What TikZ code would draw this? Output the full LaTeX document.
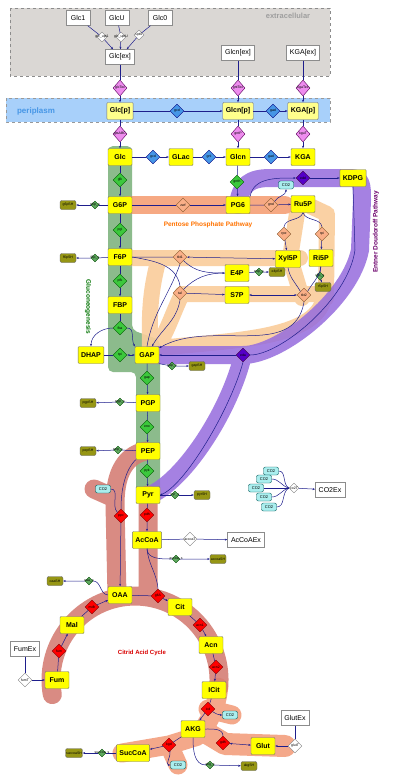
\documentclass[tikz,border=0pt]{standalone}
\usepackage{fontspec}
\setmainfont{Liberation Sans}
\usetikzlibrary{shapes.geometric, arrows.meta, positioning, calc, backgrounds}

\definecolor{metyel}{RGB}{255,255,0}
\definecolor{peryel}{RGB}{255,255,140}
\definecolor{edgeblue}{RGB}{30,30,140}
\definecolor{bgreen}{RGB}{128,180,128}
\definecolor{borange}{RGB}{246,165,125}
\definecolor{bpeach}{RGB}{250,205,155}
\definecolor{bpurple}{RGB}{150,108,222}
\definecolor{bred}{RGB}{212,124,114}
\definecolor{bsalmon}{RGB}{244,168,138}
\definecolor{rxgreen}{RGB}{60,200,60}
\definecolor{rxsalmon}{RGB}{250,175,135}
\definecolor{rxblue}{RGB}{70,150,230}
\definecolor{rxpink}{RGB}{238,140,238}
\definecolor{rxviolet}{RGB}{85,0,200}
\definecolor{sinkolive}{RGB}{150,150,20}
\definecolor{sinkgreen}{RGB}{95,170,95}
\definecolor{cofcyan}{RGB}{170,238,238}
\definecolor{extgray}{RGB}{218,215,212}
\definecolor{peribg}{RGB}{168,208,250}

\begin{document}
\begin{tikzpicture}[x=1pt, y=-1pt, >={Stealth[length=2.5pt,width=2pt]},
        met/.style={rectangle, draw=black!55, fill=metyel, rounded corners=1pt, minimum width=24pt, minimum height=17pt, inner xsep=3pt, inner ysep=1pt, font=\fontsize{7}{8}\selectfont\bfseries},
        metp/.style={met, fill=peryel},
        ext/.style={rectangle, draw=black!45, fill=white, minimum width=24pt, minimum height=15pt, inner xsep=3.5pt, inner ysep=1pt, font=\fontsize{7}{8}\selectfont},
        rxlab/.style={font=\fontsize{3.5}{4}\selectfont, inner sep=0pt},
        rxbase/.style={diamond, draw=black!60, line width=0.4pt, inner sep=0pt, minimum width=14pt, minimum height=14pt, label={[rxlab]center:#1}},
        grx/.style={rxbase=#1, fill=rxgreen, draw=green!35!black},
        rrx/.style={rxbase=#1, fill=red, draw=red!50!black},
        srx/.style={rxbase=#1, fill=rxsalmon, draw=brown!70!black},
        brx/.style={rxbase=#1, fill=rxblue, draw=blue!50!black},
        prx/.style={rxbase=#1, fill=rxpink, draw=violet!70!black, minimum height=16pt},
        vrx/.style={rxbase=#1, fill=rxviolet, draw=violet!50!black},
        wrx/.style={rxbase=#1, fill=white, draw=black!50, minimum width=10pt, minimum height=10pt},
        snkrx/.style={rxbase=#1, fill=sinkgreen, draw=green!30!black, minimum width=8pt, minimum height=8pt},
        snk/.style={rectangle, rounded corners=2pt, draw=black!60, fill=sinkolive, minimum width=16pt, minimum height=9pt, inner sep=0.5pt, font=\fontsize{3.5}{4}\selectfont},
        cof/.style={rectangle, rounded corners=2pt, draw=teal!70!black, fill=cofcyan, minimum width=15pt, minimum height=8pt, inner sep=0.5pt, font=\fontsize{4}{4.5}\selectfont},
        flux/.style={draw=edgeblue, line width=0.5pt},
        band/.style={line width=16pt, line cap=round, line join=round},
        pathlbl/.style={font=\fontsize{6.5}{7}\selectfont\bfseries}
    ]
    \fill[white] (0,0) rectangle (400,782);
    \useasboundingbox (0,0) rectangle (400,782);

    % compartments
    \draw[black!45, dashed, fill=extgray] (10,8) rectangle (330,76);
    \draw[black!40, dashed, fill=peribg] (6,98) rectangle (330,122);
    \node[font=\fontsize{7.5}{8}\selectfont\bfseries, text=black!38] (lblext) at (288,16) {extracellular};
    \node[font=\fontsize{8}{9}\selectfont\bfseries, text=rxblue] (lblperi) at (36,111) {periplasm};

    % pathway bands
    \draw[band, bsalmon, line width=19pt] (218.7,687.3) arc[start angle=-5, end angle=-42, radius=84pt] -- (169,745) -- (122,753) (169,745) -- (178,765) (208,709) -- (232,715);
    \draw[band, bsalmon, line width=22pt] (205,732) -- (225,744) -- (285,746);
    \fill[bgreen, opacity=0.9, rounded corners=5pt] (108,146) -- (132,146) -- (132,330) -- (160,340) -- (160,492) -- (136,492) -- (136,372) -- (108,372) -- cycle;
    \draw[band, bpeach, opacity=0.9, line width=16pt] (130,258) -- (300,258) (298,207) -- (290,258) -- (302,298) (310,206) -- (327,214) -- (326,298) (182,294) -- (322,294) (158,262) .. controls (148,300) and (150,325) .. (150,348) (182,294) .. controls (172,315) and (166,335) .. (156,348) (324,298) .. controls (315,340) and (230,340) .. (160,348);
    \draw[band, borange, opacity=0.95, line width=18pt] (128,205) -- (285,205);
    \draw[band, bpurple, opacity=0.85, line width=18pt] (238,205) .. controls (240,185) and (250,178) .. (270,178) -- (350,178) .. controls (362,178) and (362,185) .. (362,200) -- (360,250) .. controls (350,300) and (280,355) .. (243,355) -- (150,355) (243,355) .. controls (230,410) and (185,480) .. (150,495);
    \draw[band, bred, opacity=0.88, line width=19pt] (146,451) .. controls (122,456) and (115,478) .. (115,505) -- (117,595) (148,495) -- (148,592) (94,489) -- (112,497) (52.3,694.6) arc[start angle=190, end angle=-5, radius=84pt];

    % pathway titles
    \node[pathlbl, text=orange!90!red] (lblppp) at (208,225) {Pentose Phosphate Pathway};
    \node[pathlbl, text=green!45!black, rotate=-90] (lblgng) at (88,307) {Gluconeogenesis};
    \node[pathlbl, text=violet!85!black, rotate=90] (lbled) at (376,232) {Entner Doudoroff Pathway};
    \node[pathlbl, font=\fontsize{6}{7}\selectfont\bfseries, text=red!85!black] (lbltca) at (142,653) {Citrid Acid Cycle};

    % extracellular
    \node[ext] (glc1) at (78,18) {Glc1};
    \node[ext] (glcu) at (117,18) {GlcU};
    \node[ext] (glc0) at (160,18) {Glc0};
    \node[wrx=glc\_upt1] (tglc1) at (102,37) {};
    \node[wrx=glc\_uptU] (tglcu) at (121,37) {};
    \node[wrx=upt0] (tglc0) at (139,35) {};
    \node[ext] (glcex) at (120,57) {Glc[ex]};
    \node[ext] (glcnex) at (238,53) {Glcn[ex]};
    \node[ext] (kgaex) at (303,53) {KGA[ex]};
    \node[prx=glcTex] (oprglc) at (120,88) {};
    \node[prx=gntTex] (oprglcn) at (238,88) {};
    \node[prx=kgaTex] (oprkga) at (303,88) {};

    % periplasm
    \node[metp] (glcp) at (120,111) {Glc[p]};
    \node[metp] (glcnp) at (238,111) {Glcn[p]};
    \node[metp] (kgap) at (303,111) {KGA[p]};
    \node[brx=gcd] (gcdp) at (177,111) {};
    \node[brx=gad] (gadp) at (273,111) {};
    \node[prx=gtsABC] (glct) at (120,134) {};
    \node[prx=gntP] (gntt) at (238,134) {};
    \node[prx=kguT] (kgat) at (303,134) {};

    % cytoplasm
    \node[met] (glc) at (120,157) {Glc};
    \node[brx=gcd] (gcdc) at (153,157) {};
    \node[met] (glac) at (181,157) {GLac};
    \node[brx=gnl] (gnlc) at (209,157) {};
    \node[met] (glcn) at (238,157) {Glcn};
    \node[brx=gad] (gadc) at (271,157) {};
    \node[met] (kga) at (303,157) {KGA};

    \node[grx=glk] (glk) at (120,180) {};
    \node[grx=gntK] (gnk) at (237,182) {};
    \node[met] (g6p) at (120,205) {G6P};
    \node[srx=zwf] (zwf) at (183,205) {};
    \node[met] (pg6) at (238,205) {PG6};
    \node[srx=gnd] (gnd) at (271,205) {};
    \node[met] (ru5p) at (303,204) {Ru5P};
    \node[cof] (co2a) at (286,185) {CO2};
    \node[vrx=edd] (edd) at (303,178) {};
    \node[met] (kdpg) at (353,178) {KDPG};
    \node[grx=pgi] (pgi) at (120,230) {};
    \node[srx=rpe] (rpe) at (284,234) {};
    \node[srx=rpi] (rpi) at (322,234) {};
    \node[met] (f6p) at (120,257) {F6P};
    \node[srx=tkt1] (tkt1) at (180,257) {};
    \node[met] (xyl5p) at (288,259) {Xyl5P};
    \node[met] (r5p) at (321,258) {Ri5P};
    \node[met] (e4p) at (237,273) {E4P};
    \node[grx=pfk] (pfk) at (120,281) {};
    \node[srx=tal] (tal) at (180,293) {};
    \node[met] (s7p) at (237,295) {S7P};
    \node[srx=tkt2] (tkt2) at (304,295) {};
    \node[met] (fbp) at (120,305) {FBP};
    \node[grx=fba] (fba) at (120,328) {};
    \node[met] (dhap) at (91,355) {DHAP};
    \node[grx=tpi] (tpi) at (120,355) {};
    \node[met] (gap) at (147,355) {GAP};
    \node[vrx=eda] (eda) at (243,355) {};
    \node[grx=gap] (gapd) at (147,378) {};
    \node[met] (pgp) at (148,403) {PGP};
    \node[grx=eno] (eno) at (147,427) {};
    \node[met] (pep) at (148,451) {PEP};
    \node[grx=pyk] (pyk) at (147,471) {};
    \node[met] (pyr) at (148,495) {Pyr};
    \node[cof] (co2b) at (103,489) {CO2};
    \node[rrx=ppc] (rppc) at (121,516) {};
    \node[rrx=pdh] (rpdh) at (147,515) {};
    \node[met] (accoa) at (147,540) {AcCoA};
    \node[wrx=accoaT, minimum width=14pt, minimum height=14pt] (wacx) at (190,539) {};
    \node[ext] (acoaex) at (246,540) {AcCoAEx};

    % citric acid cycle
    \node[met] (oaa) at (120,595) {OAA};
    \node[rrx=gltA] (rglt) at (158,596) {};
    \node[met] (cit) at (180,607) {Cit};
    \node[rrx=acn1] (racon) at (200,625) {};
    \node[met] (acn) at (211,645) {Acn};
    \node[rrx=acn2] (racn) at (216,667) {};
    \node[met] (icit) at (214,690) {ICit};
    \node[rrx=icd] (ricd) at (208,709) {};
    \node[cof] (co2c) at (230,715) {CO2};
    \node[met] (akg) at (193,729) {AKG};
    \node[rrx=kgd] (rkgd) at (169,745) {};
    \node[cof] (co2d) at (178,765) {CO2};
    \node[met] (succoa) at (133,753) {SucCoA};
    \node[rrx=gdh] (rgdh) at (223,743) {};
    \node[met] (glut) at (263,746) {Glut};
    \node[ext] (glutex) at (295,718) {GlutEx};
    \node[wrx=glutT, minimum width=14pt, minimum height=14pt] (wglut) at (295,746) {};
    \node[rrx=mdh] (rmdh) at (92,607) {};
    \node[met] (mal) at (72,625) {Mal};
    \node[rrx=fum] (rfum) at (59,651) {};
    \node[met] (fum) at (57,680) {Fum};
    \node[ext] (fumex) at (25,649) {FumEx};
    \node[wrx=fumT, minimum width=14pt, minimum height=14pt] (wfum) at (25,680) {};

    % sinks
    \node[snk] (g6psh) at (68,205) {g6pSH};
    \node[snkrx=g6p\_s] (sg6p) at (95,205) {};
    \node[snk] (f6psh) at (68,258) {f6pSH};
    \node[snkrx=f6p\_s] (sf6p) at (95,258) {};
    \node[snkrx=gap\_s] (sgap) at (172,366) {};
    \node[snk] (gapsh) at (197,366) {gapSH};
    \node[snk] (pgpsh) at (88,403) {pgpSH};
    \node[snkrx=pgp\_s] (spgp) at (120,402) {};
    \node[snk] (pepsh) at (88,451) {pepSH};
    \node[snkrx=pep\_s] (spep) at (118,450) {};
    \node[snkrx=pyr\_s] (spyr) at (175,495) {};
    \node[snk] (pyrsh) at (202,495) {pyrSH};
    \node[snkrx=accoa\_s] (sacc) at (176,559) {};
    \node[snk] (accoash) at (218,559) {accoaSH};
    \node[snkrx=oaa\_s] (soaa) at (89,581) {};
    \node[snk] (oaash) at (55,581) {oaaSH};
    \node[snkrx=succoa\_s] (ssuc) at (102,753) {};
    \node[snk] (succoash) at (74,753) {succoaSH};
    \node[snkrx=akg\_s] (sakg) at (210,765) {};
    \node[snk] (akgsh) at (249,766) {akgSH};
    \node[snkrx=e4p\_s] (se4p) at (259,272) {};
    \node[snk] (e4psh) at (277,272) {e4pSH};
    \node[snkrx=r5p\_s] (sr5p) at (320,276) {};
    \node[snk] (r5psh) at (323,287) {r5pSH};

    % CO2 export
    \node[cof] (co2e1) at (271,471) {CO2};
    \node[cof] (co2e2) at (264,479) {CO2};
    \node[cof] (co2e3) at (256,488) {CO2};
    \node[cof] (co2e4) at (264,497) {CO2};
    \node[cof] (co2e5) at (269,507) {CO2};
    \node[wrx=co2T] (wco2) at (294,488) {};
    \node[ext] (co2ex) at (330,490) {CO2Ex};

    % transport
    \draw[flux,->] (glc1) -- (tglc1) (tglc1) -- (glcex);
    \draw[flux,->] (glcu) -- (tglcu) (tglcu) -- (glcex);
    \draw[flux,->] (glc0) -- (tglc0) (tglc0) -- (glcex);
    \draw[flux,->] (glcex) -- (oprglc) (oprglc) -- (glcp);
    \draw[flux,->] (glcnex) -- (oprglcn) (oprglcn) -- (glcnp);
    \draw[flux,->] (kgaex) -- (oprkga) (oprkga) -- (kgap);
    \draw[flux,->] (glcp) -- (gcdp) (gcdp) -- (glcnp);
    \draw[flux,->] (glcnp) -- (gadp) (gadp) -- (kgap);
    \draw[flux,->] (glcp) -- (glct) (glct) -- (glc);
    \draw[flux,->] (glcnp) -- (gntt) (gntt) -- (glcn);
    \draw[flux,->] (kgap) -- (kgat) (kgat) -- (kga);
    \draw[flux,->] (glc) -- (gcdc) (gcdc) -- (glac);
    \draw[flux,->] (glac) -- (gnlc) (gnlc) -- (glcn);
    \draw[flux,->] (glcn) -- (gadc) (gadc) -- (kga);

    % glycolysis
    \draw[flux,->] (glc) -- (glk) (glk) -- (g6p);
    \draw[flux,->] (glcn) -- (gnk) (gnk) -- (pg6);
    \draw[flux,->] (g6p) -- (pgi) (pgi) -- (f6p);
    \draw[flux,->] (f6p) -- (pfk) (pfk) -- (fbp);
    \draw[flux] (fbp) -- (fba);
    \draw[flux,->] (fba.west) to[out=180,in=90] (dhap.north);
    \draw[flux,->] (fba.east) to[out=0,in=120] (gap.north west);
    \draw[flux,<->] (dhap) -- (tpi) (tpi) -- (gap);
    \draw[flux,->] (gap) -- (gapd) (gapd) -- (pgp);
    \draw[flux,->] (pgp) -- (eno) (eno) -- (pep);
    \draw[flux,->] (pep) -- (pyk) (pyk) -- (pyr);

    % pentose phosphate
    \draw[flux,->] (g6p) -- (zwf) (zwf) -- (pg6);
    \draw[flux,->] (pg6) -- (gnd) (gnd) -- (ru5p);
    \draw[flux,->] (gnd.north east) to[out=60,in=-90] (co2a.south);
    \draw[flux,->] (ru5p.south) to[out=-110,in=80] (rpe.north) (rpe) -- (xyl5p);
    \draw[flux,->] (ru5p.south) to[out=-70,in=100] (rpi.north) (rpi) -- (r5p);
    \draw[flux,<->] (f6p) -- (tkt1) (tkt1) -- (xyl5p);
    \draw[flux] (tkt1.south) to[out=-110,in=80] (gap.north);
    \draw[flux,->] (tkt1.south east) to[out=-45,in=180] (e4p.west);
    \draw[flux] (f6p.east) to[out=-10,in=100] (tal.north);
    \draw[flux] (e4p.west) to[out=180,in=45] (tal.north east);
    \draw[flux,->] (tal) -- (s7p);
    \draw[flux,->] (tal.south) to[out=-100,in=60] (gap.60);
    \draw[flux,<->] (s7p) -- (tkt2);
    \draw[flux] (xyl5p.south) to[out=-80,in=120] (tkt2.north west);
    \draw[flux] (r5p.south) to[out=-100,in=60] (tkt2.north east);
    \draw[flux,->] (tkt2.south) to[out=-100,in=30] (gap.30);
    \draw[flux,->] (e4p) -- (se4p) (se4p) -- (e4psh);
    \draw[flux,->] (r5p) -- (sr5p) (sr5p) -- (r5psh);

    % Entner Doudoroff
    \draw[flux,->] (pg6.north east) to[out=80,in=180] (edd.west);
    \draw[flux,->] (edd) -- (kdpg);
    \draw[flux] (kdpg.south) -- (355,250) .. controls (348,300) and (280,355) .. (eda.east);
    \draw[flux,->] (eda) -- (gap);
    \draw[flux,->] (eda.south) .. controls (230,410) and (185,485) .. (pyr.east);

    % sinks
    \draw[flux,->] (g6p) -- (sg6p) (sg6p) -- (g6psh);
    \draw[flux,->] (f6p) -- (sf6p) (sf6p) -- (f6psh);
    \draw[flux,->] (gap.south east) -- (sgap) (sgap) -- (gapsh);
    \draw[flux,->] (pgp) -- (spgp) (spgp) -- (pgpsh);
    \draw[flux,->] (pep) -- (spep) (spep) -- (pepsh);
    \draw[flux,->] (pyr) -- (spyr) (spyr) -- (pyrsh);

    % citric acid cycle
    \draw[flux] (pep.south west) .. controls (125,470) and (121,490) .. (rppc.north);
    \draw[flux] (co2b.east) to[out=0,in=135] (rppc.north west);
    \draw[flux,->] (rppc) -- (oaa);
    \draw[flux,->] (pyr) -- (rpdh) (rpdh) -- (accoa);
    \draw[flux,->] (accoa) -- (wacx) (wacx) -- (acoaex);
    \draw[flux,->] (accoa.south) to[out=-90,in=180] (sacc.west) (sacc) -- (accoash);
    \draw[flux] (accoa.south) to[out=-85,in=95] (rglt.north);
    \draw[flux,->] (oaa) -- (rglt) (rglt) -- (cit);
    \draw[flux,->] (cit) -- (racon) (racon) -- (acn);
    \draw[flux,->] (acn) -- (racn) (racn) -- (icit);
    \draw[flux,->] (icit) -- (ricd) (ricd) -- (akg);
    \draw[flux,->] (ricd) to[out=-30,in=180] (co2c.west);
    \draw[flux,->] (akg) -- (rkgd) (rkgd) -- (succoa);
    \draw[flux,->] (rkgd) to[out=-80,in=180] (co2d.west);
    \draw[flux,<->] (akg.east) to[out=0,in=90] (rgdh.north) (rgdh) -- (glut);
    \draw[flux,->] (glutex) -- (wglut) (wglut) -- (glut);
    \draw[flux,->] (akg.south) to[out=-90,in=180] (sakg.west) (sakg) -- (akgsh);
    \draw[flux,->] (succoa) -- (ssuc) (ssuc) -- (succoash);
    \draw[flux,->] (fum) -- (rfum) (rfum) -- (mal);
    \draw[flux,->] (mal) -- (rmdh) (rmdh) -- (oaa);
    \draw[flux,->] (fumex) -- (wfum) (wfum) -- (fum);
    \draw[flux,->] (oaa.west) to[out=175,in=0] (soaa) (soaa) -- (oaash);

    % CO2 export
    \draw[flux] (co2e1.east) to[out=0,in=150] (wco2.west);
    \draw[flux] (co2e2.east) to[out=0,in=165] (wco2.west);
    \draw[flux] (co2e3.east) -- (wco2.west);
    \draw[flux] (co2e4.east) to[out=0,in=195] (wco2.west);
    \draw[flux] (co2e5.east) to[out=0,in=210] (wco2.west);
    \draw[flux,->] (wco2) -- (co2ex);
\end{tikzpicture}
\end{document}
